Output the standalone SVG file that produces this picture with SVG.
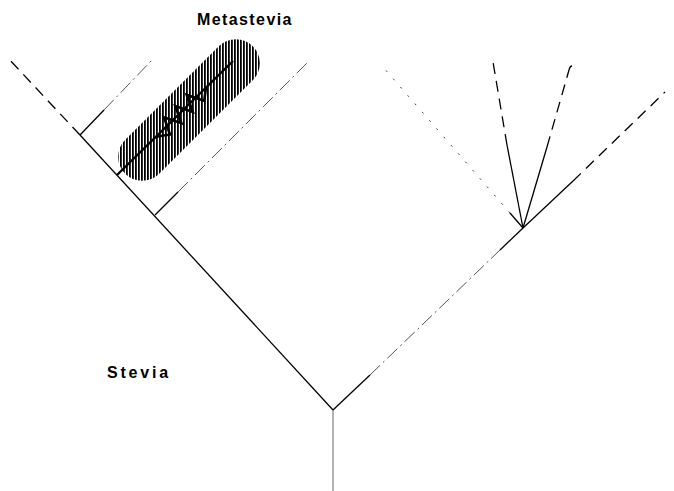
<svg xmlns="http://www.w3.org/2000/svg" width="674" height="491" viewBox="0 0 674 491">
<defs>
<pattern id="hatch" patternUnits="userSpaceOnUse" width="3" height="10">
<rect x="0" y="0" width="1.8" height="10" fill="#000"/>
</pattern>
<style>
.solid{stroke:#000;stroke-width:1.3;fill:none}
.grey{stroke:#555;stroke-width:0.9;fill:none}
.dash{stroke:#000;stroke-width:1.3;fill:none;stroke-dasharray:11 7}
.dot{stroke:#444;stroke-width:1;fill:none;stroke-dasharray:2 9}
.dashdot{stroke:#555;stroke-width:1;fill:none;stroke-dasharray:14 4 2 4}
.label{font-family:"Liberation Sans",Arial,sans-serif;font-size:16px;font-weight:bold;fill:#000}
</style>
</defs>
<rect width="674" height="491" fill="#fff"/>
<g id="connectors">
<line class="grey" x1="333" y1="410" x2="333" y2="491"/>
<line class="solid" x1="333" y1="410" x2="80" y2="135"/>
<line class="dash" x1="80" y1="135" x2="7" y2="57"/>
<line class="solid" x1="80" y1="135" x2="104" y2="110"/>
<line class="dashdot" x1="104" y1="110" x2="153" y2="59"/>
<line class="solid" x1="155" y1="215" x2="178" y2="192"/>
<line class="dashdot" x1="178" y1="192" x2="308" y2="62"/>
<line class="solid" x1="333" y1="410" x2="370" y2="375"/>
<line class="dashdot" x1="370" y1="375" x2="500" y2="250"/>
<line class="solid" x1="500" y1="250" x2="523" y2="228"/>
<line class="solid" x1="523" y1="228" x2="573" y2="181"/>
<line class="dash" x1="573" y1="181" x2="665" y2="92"/>
<line class="solid" x1="523" y1="228" x2="510" y2="213"/>
<line class="dot" x1="510" y1="213" x2="383" y2="67"/>
<line class="solid" x1="523" y1="228" x2="507" y2="145"/>
<line class="dash" x1="507" y1="145" x2="493" y2="62"/>
<line class="solid" x1="523" y1="228" x2="547" y2="147"/>
<line class="dash" x1="547" y1="147" x2="569" y2="70"/>
<path class="solid" d="M569 70 Q570 66 572 66"/>
</g>
<g id="metastevia-blob">
<path d="M158.97,173.97 L252.97,79.97 A24,24 0 0 0 219.03,46.03 L125.03,140.03 A24,24 0 0 0 158.97,173.97 Z" fill="url(#hatch)"/>
<line x1="117" y1="175" x2="233" y2="61" stroke="#000" stroke-width="2.4"/>
<polyline points="156,136.7 170,134.5 164,117.3 181.4,123.2 175.3,106.1 192.8,112 186.7,94.9 204.2,100.8 206,87.5" fill="none" stroke="#000" stroke-width="2.6" stroke-linejoin="miter"/>
</g>
<g id="label-metastevia"><text class="label" x="197" y="25" letter-spacing="1.4">Metastevia</text></g>
<g id="label-stevia"><text class="label" x="107" y="378" letter-spacing="2.8">Stevia</text></g>
</svg>
